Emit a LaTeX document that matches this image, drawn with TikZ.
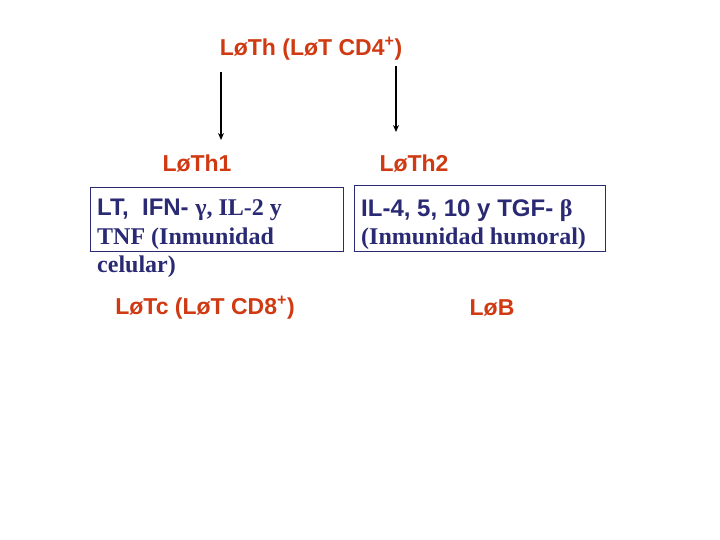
\documentclass[tikz,border=0pt]{standalone}
\usepackage{fontspec}
\setmainfont{Liberation Serif}
\setsansfont{Liberation Sans}
\usepackage{xcolor}
\usetikzlibrary{arrows.meta}
\definecolor{cellred}{RGB}{208,58,18}
\definecolor{boxnavy}{RGB}{42,42,116}
\newcommand{\lo}{L\o{}}

\begin{document}
\begin{tikzpicture}[
  x=1pt, y=-1pt,
  >={Stealth[length=7pt,width=6pt]},
  cell/.style={text=cellred, font=\sffamily\bfseries\fontsize{23}{27}\selectfont, inner sep=0pt},
  infobox/.style={draw=boxnavy, line width=0.8pt, anchor=north west, inner sep=0pt},
  infotext/.style={text=boxnavy, anchor=north west, align=left, inner sep=0pt,
    font=\bfseries\fontsize{24}{28.5}\selectfont}
]
\useasboundingbox (0,0) rectangle (720,540);
\node[cell] (th) at (311,49) {\lo Th (\lo T CD4\textsuperscript{+})};
\node[cell] (th1) at (197,163) {\lo Th1};
\node[cell] (th2) at (414,163) {\lo Th2};
\node[infobox, minimum width=253pt, minimum height=64pt] (b1) at (90,187) {};
\node[infobox, minimum width=251pt, minimum height=66pt] (b2) at (354,185) {};
\node[infotext] (t1) at (97,199) {\sffamily LT,\ \ IFN- \rmfamily γ, IL-2 y\\TNF (Inmunidad\\celular)};
\node[infotext] (t2) at (361,199) {\sffamily IL-4, 5, 10 y TGF- \rmfamily β\\(Inmunidad humoral)};
\node[cell] (tc) at (205,308) {\lo Tc (\lo T CD8\textsuperscript{+})};
\node[cell] (lb) at (492,308) {\lo B};

\coordinate (a1) at (221,72);
\coordinate (e1) at (221,140);
\coordinate (a2) at (396,66);
\coordinate (e2) at (396,132);
\draw[->, line width=1.5pt] (a1) -- (e1);
\draw[->, line width=1.5pt] (a2) -- (e2);
\end{tikzpicture}
\end{document}
